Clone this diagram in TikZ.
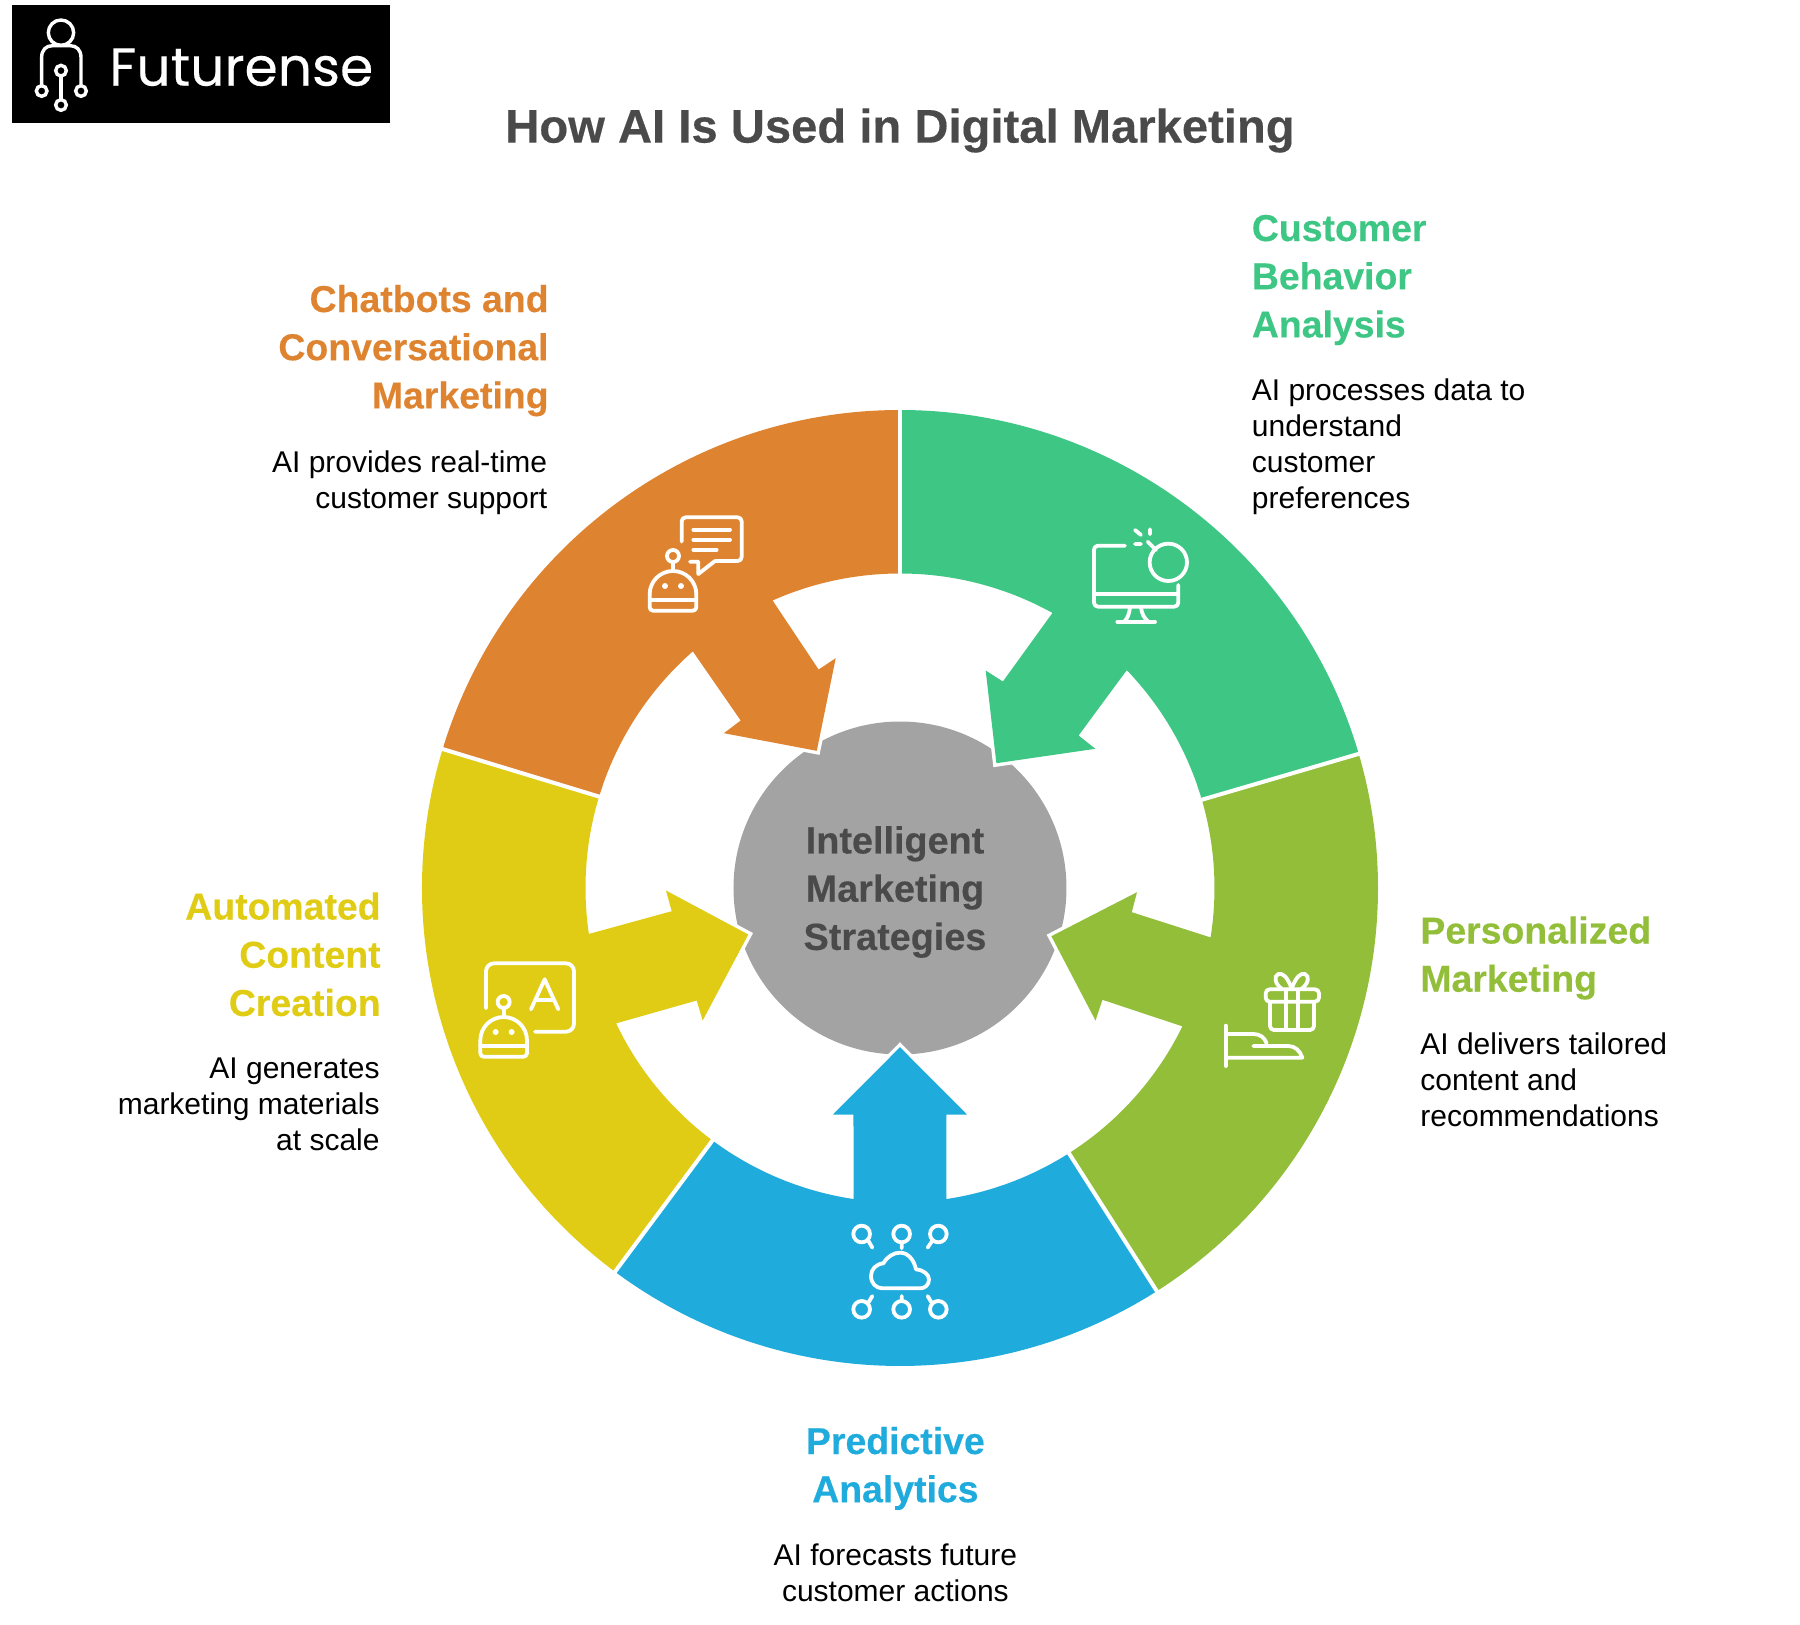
\documentclass[tikz,border=0pt]{standalone}
\usepackage{fontspec}
\setmainfont{Liberation Sans}
\newfontfamily\logofont[FakeBold=0.25]{Poppins}
\newfontfamily\boldfam[BoldFont={Liberation Sans Bold},FakeBold=0.3]{Liberation Sans Bold}
\definecolor{cOrange}{HTML}{DE8431}
\definecolor{cGreen}{HTML}{3EC684}
\definecolor{cOlive}{HTML}{93BE3A}
\definecolor{cBlue}{HTML}{1FABDB}
\definecolor{cYellow}{HTML}{E0CC14}
\definecolor{cGrey}{HTML}{A3A3A3}
\definecolor{cInk}{HTML}{4A4A4A}
\tikzset{
 ico/.style={draw=white,line width=1.9pt,line cap=round,line join=round},
 halo/.style={draw=white,line width=3.5pt,miter limit=10},
 parting/.style={draw=white,line width=2pt},
 head/.style={font=\boldfam\fontsize{18.7}{24.1}\selectfont,inner sep=0pt},
 body/.style={font=\fontsize{15}{18}\selectfont,text=black,inner sep=0pt},
}
\newcommand{\robotglyph}[2]{%
 \begin{scope}[shift={(#1,#2)}]
 \draw[ico] (0,0) circle[radius=18];
 \draw[ico] (0,18) -- (0,44);
 \draw[ico] (-70,115) arc[start angle=180,end angle=360,radius=70];
 \draw[ico,rounded corners=1.7pt] (-70,115) -- (-70,164) -- (70,164) -- (70,115);
 \draw[ico] (-70,132) -- (70,132);
 \fill[white] (-24,90) circle[radius=9] (24,90) circle[radius=9];
 \end{scope}}
\begin{document}
\begin{tikzpicture}[x=.5pt,y=.5pt]
\useasboundingbox (-900,-736) rectangle (900,888);
\fill[cGrey] (0,0) circle[radius=166.5];
% sectors
\draw[halo] (-176.1,154.8) -- (-83.2,137.2) -- (-64.3,229.8);
\fill[cOrange] (163.1:478) arc[start angle=163.1,end angle=90,radius=478] -- (90:314.5) arc[start angle=90,end angle=113.9,radius=314.5] -- (-81.4,218.5) -- (-64.3,229.8) -- (-83.2,137.2) -- (-176.1,154.8) -- (-159.3,167.5) -- (131.2:314.5) arc[start angle=131.2,end angle=163.1,radius=314.5] -- cycle;
\draw[halo] (85.7,217.5) -- (96.4,124.8) -- (195.4,139.2);
\fill[cGreen] (90:478) arc[start angle=90,end angle=16.3,radius=478] -- (16.3:314.5) arc[start angle=16.3,end angle=43.85,radius=314.5] -- (178.6,152.5) -- (195.4,139.2) -- (96.4,124.8) -- (85.7,217.5) -- (102.9,206.5) -- (61:314.5) arc[start angle=61,end angle=90,radius=314.5] -- cycle;
\draw[halo] (237,-4.2) -- (151.4,-48.2) -- (195.5,-132.5);
\fill[cOlive] (16.3:478) arc[start angle=16.3,end angle=-57.5,radius=478] -- (-57.5:314.5) arc[start angle=-57.5,end angle=-26.1,radius=314.5] -- (202.4,-111.8) -- (195.5,-132.5) -- (151.4,-48.2) -- (237,-4.2) -- (231.8,-24.2) -- (-9.04:314.5) arc[start angle=-9.04,end angle=16.3,radius=314.5] -- cycle;
\draw[halo] (-67,-226.5) -- (0,-159.2) -- (67,-226.5);
\fill[cBlue] (-57.5:478) arc[start angle=-57.5,end angle=-126.6,radius=478] -- (-126.6:314.5) arc[start angle=-126.6,end angle=-98.5,radius=314.5] -- (-46.5,-226.5) -- (-67,-226.5) -- (0,-159.2) -- (67,-226.5) -- (46.5,-226.5) -- (-81.5:314.5) arc[start angle=-81.5,end angle=-57.5,radius=314.5] -- cycle;
\draw[halo] (-234,-2.5) -- (-151.7,-46.5) -- (-197.3,-132.5);
\fill[cYellow] (-126.6:478) arc[start angle=-126.6,end angle=-196.9,radius=478] -- (-196.9:314.5) arc[start angle=-196.9,end angle=-171.6,radius=314.5] -- (-228.3,-23.2) -- (-234,-2.5) -- (-151.7,-46.5) -- (-197.3,-132.5) -- (-203.3,-112.5) -- (-154.5:314.5) arc[start angle=-154.5,end angle=-126.6,radius=314.5] -- cycle;
% partings
\draw[parting] (90:310) -- (90:482);
\draw[parting] (16.3:310) -- (16.3:482);
\draw[parting] (-57.5:310) -- (-57.5:482);
\draw[parting] (-126.6:310) -- (-126.6:482);
\draw[parting] (163.1:310) -- (163.1:482);
% everything below in reference pixel coordinates
\begin{scope}[shift={(-900,888)},y=-.5pt]
\fill[black] (12,5) rectangle (390,123);
\begin{scope}[shift={(0,0)},x=.16667pt,y=-.16667pt]
 \draw[white,line width=1.7pt,line cap=round] (183,98) circle[radius=38];
 \draw[white,line width=1.7pt,line cap=round] (125,257) -- (125,172) .. controls (125,150) and (138,137) .. (158,137) -- (210,137) .. controls (230,137) and (243,150) .. (243,172) -- (243,257);
 \draw[white,line width=1.7pt] (125,273) circle[radius=16] (243,273) circle[radius=16] (183,212) circle[radius=16] (183,315) circle[radius=16];
 \draw[white,line width=1.7pt] (183,228) -- (183,299);
\end{scope}
\node[anchor=base west,text=white,inner sep=0pt,font=\logofont\fontsize{26.8}{26}\selectfont] (logo) at (109,85.7) {Futurense};
\node[font=\boldfam\fontsize{23.6}{28}\selectfont,text=cInk,inner sep=0pt] (title) at (900,130.5) {How AI Is Used in Digital Marketing};
\node[font=\boldfam\fontsize{18.9}{24.1}\selectfont,text=cInk,align=center,inner sep=0pt] (hub) at (895,892) {Intelligent\\Marketing\\Strategies};
% labels
\node[head,text=cOrange,align=right,anchor=north east] (t1) at (549,284.5) {Chatbots and\\Conversational\\Marketing};
\node[body,align=right,anchor=north east] (b1) at (547.6,450.5) {AI provides real-time\\customer support};
\node[head,text=cGreen,align=left,anchor=north west] (t2) at (1251.5,214.5) {Customer\\Behavior\\Analysis};
\node[body,align=left,anchor=north west] (b2) at (1251.5,378.5) {AI processes data to\\understand\\customer\\preferences};
\node[head,text=cOlive,align=left,anchor=north west] (t3) at (1420,916) {Personalized\\Marketing};
\node[body,align=left,anchor=north west] (b3) at (1420,1032) {AI delivers tailored\\content and\\recommendations};
\node[head,text=cBlue,align=center,anchor=north] (t4) at (895.4,1426.5) {Predictive\\Analytics};
\node[body,align=center,anchor=north] (b4) at (895.4,1543.5) {AI forecasts future\\customer actions};
\node[head,text=cYellow,align=right,anchor=north east] (t5) at (381,892) {Automated\\Content\\Creation};
\node[body,align=right,anchor=north east] (b5) at (380,1057.5) {AI generates\\marketing materials\\at scale};
% orange icon
\begin{scope}[shift={(640,500)},x=.16667pt,y=-.16667pt]
 \draw[ico,rounded corners=2pt] (125,125) -- (125,52) -- (305,52) -- (305,183) -- (225,183);
 \draw[ico] (225,183) -- (175,222) -- (175,185) -- (150,185);
 \draw[ico] (160,89) -- (270,89) (160,119) -- (270,119) (160,149) -- (230,149);
 \robotglyph{99}{168}
\end{scope}
% yellow icon
\begin{scope}[shift={(470,950)},x=.16667pt,y=-.16667pt]
 \draw[ico,rounded corners=4pt] (48,175) -- (48,40) -- (312,40) -- (312,245) -- (195,245);
 \draw[ico] (183,178) -- (224,88) -- (265,178) (198,150) -- (250,150);
 \robotglyph{101}{156}
\end{scope}
% green icon
\begin{scope}[shift={(1080,520)},x=.16667pt,y=-.16667pt]
 \draw[ico,rounded corners=2pt] (135,77) -- (42,77) -- (42,260) -- (295,260) -- (295,195);
 \draw[ico] (42,222) -- (295,222);
 \draw[ico] (150,262) .. controls (148,280) and (143,295) .. (133,305);
 \draw[ico] (183,262) .. controls (185,280) and (192,295) .. (205,305);
 \draw[ico] (112,305) -- (225,305);
 \draw[ico] (265,127) circle[radius=56];
 \draw[ico] (203,65) -- (228,90) (165,30) -- (183,45) (210,28) -- (210,43) (165,72) -- (183,72);
\end{scope}
% olive icon
\begin{scope}[shift={(1210,960)},x=.16667pt,y=-.16667pt]
 \draw[ico,rounded corners=2pt] (167,88) rectangle (327,125);
 \draw[ico,rounded corners=2pt] (180,125) -- (180,210) -- (312,210) -- (312,125);
 \draw[ico] (227,90) -- (227,210) (263,90) -- (263,210);
 \draw[ico] (245,86) .. controls (232,50) and (218,38) .. (205,42) .. controls (190,48) and (195,72) .. (215,86);
 \draw[ico] (245,86) .. controls (258,50) and (272,38) .. (285,42) .. controls (300,48) and (295,72) .. (275,86);
 \draw[ico] (47,197) -- (47,318);
 \draw[ico] (47,222) -- (130,222) .. controls (150,222) and (163,232) .. (170,250);
 \draw[ico] (130,258) -- (235,258) .. controls (255,258) and (270,272) .. (277,293) -- (47,293);
\end{scope}
% blue icon
\begin{scope}[shift={(840,1220)},x=.16667pt,y=-.16667pt]
 \draw[ico] (65,42) circle[radius=25] (185,42) circle[radius=25] (295,42) circle[radius=25] (65,268) circle[radius=25] (185,268) circle[radius=25] (295,268) circle[radius=25];
 \draw[ico] (85,62) -- (97,83) (185,68) -- (185,85) (277,62) -- (263,83) (85,248) -- (97,228) (185,242) -- (185,228) (275,248) -- (263,228);
 \draw[ico] (128,205) .. controls (108,205) and (93,190) .. (93,168) .. controls (93,148) and (108,132) .. (130,130) .. controls (142,110) and (160,98) .. (180,98) .. controls (205,98) and (222,120) .. (228,148) .. controls (250,150) and (267,163) .. (267,178) .. controls (267,195) and (255,205) .. (240,205) -- cycle;
\end{scope}
\end{scope}
\end{tikzpicture}
\end{document}
